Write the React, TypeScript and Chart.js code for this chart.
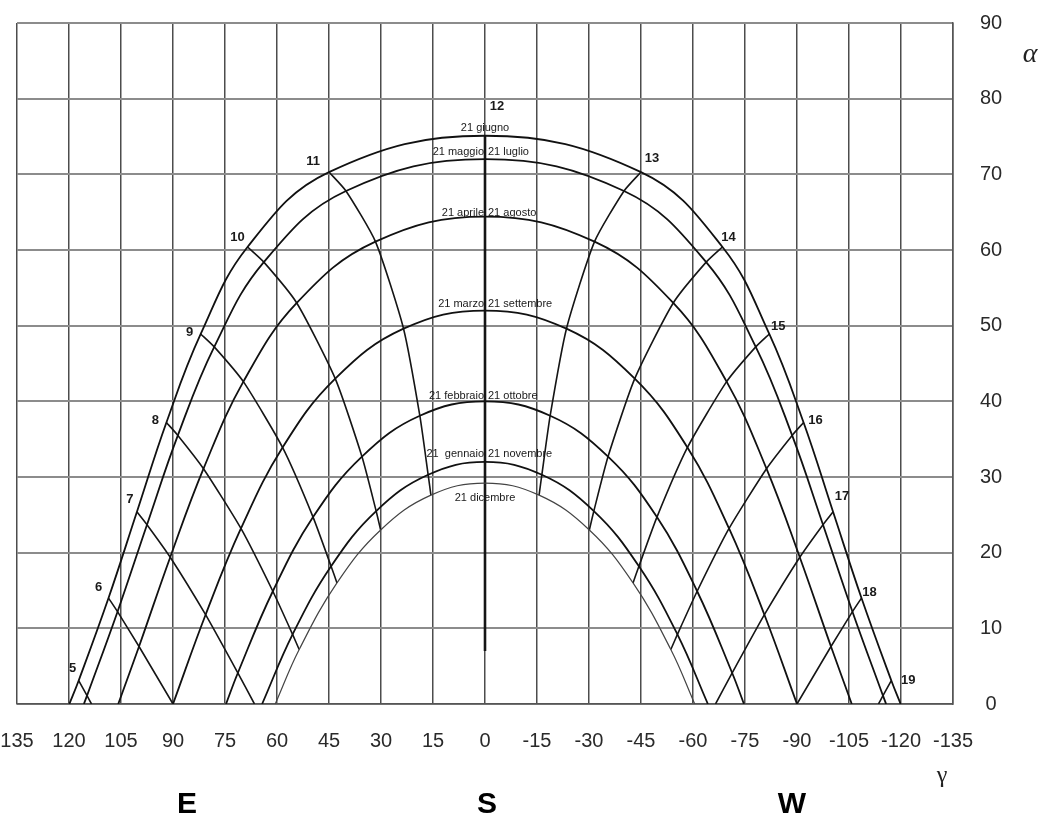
import React, { useEffect, useRef } from 'react';
import { Chart, registerables } from 'chart.js';

Chart.register(...registerables);

// Solar hours (columns of every date array)
const hours = [5, 6, 7, 8, 9, 10, 11, 12, 13, 14, 15, 16, 17, 18, 19];

// Date curves: azimuth γ and altitude α for each hour
const dateNamesLeft = ['21 giugno', '21 maggio', '21 aprile', '21 marzo', '21 febbraio', '21  gennaio', '21 dicembre'];
const dateNamesRight = ['', '21 luglio', '21 agosto', '21 settembre', '21 ottobre', '21 novembre', ''];

const junGamma = [117.2, 108.6, 100.4, 91.9, 82.0, 68.5, 45.0, 0, -45.0, -68.5, -82.0, -91.9, -100.4, -108.6, -117.2];
const junAlpha = [3.1, 14.0, 25.4, 37.2, 48.9, 60.4, 70.3, 75.1, 70.3, 60.4, 48.9, 37.2, 25.4, 14.0, 3.1];

const mayGamma = [114.8, 106.0, 97.5, 88.6, 78.1, 63.8, 40.1, 0, -40.1, -63.8, -78.1, -88.6, -97.5, -106.0, -114.8];
const mayAlpha = [1.1, 12.2, 23.7, 35.5, 47.2, 58.4, 67.8, 72.0, 67.8, 58.4, 47.2, 35.5, 23.7, 12.2, 1.1];

const aprGamma = [null, 99.8, 90.8, 81.2, 69.7, 54.3, 31.6, 0, -31.6, -54.3, -69.7, -81.2, -90.8, -99.8, null];
const aprAlpha = [null, 7.6, 19.4, 31.1, 42.6, 53.0, 61.1, 64.4, 61.1, 53.0, 42.6, 31.1, 19.4, 7.6, null];

const marGamma = [null, 90.0, 80.6, 70.4, 58.4, 43.2, 23.5, 0, -23.5, -43.2, -58.4, -70.4, -80.6, -90.0, null];
const marAlpha = [null, 0, 11.8, 23.2, 33.9, 43.0, 49.6, 52.0, 49.6, 43.0, 33.9, 23.2, 11.8, 0, null];

const febGamma = [null, null, 71.3, 61.2, 49.6, 35.5, 18.8, 0, -18.8, -35.5, -49.6, -61.2, -71.3, null, null];
const febAlpha = [null, null, 4.1, 14.9, 24.7, 32.7, 38.1, 40.0, 38.1, 32.7, 24.7, 14.9, 4.1, null, null];

const janGamma = [null, null, null, 55.5, 44.4, 31.4, 16.4, 0, -16.4, -31.4, -44.4, -55.5, null, null, null];
const janAlpha = [null, null, null, 9.2, 18.2, 25.5, 30.3, 32.0, 30.3, 25.5, 18.2, 9.2, null, null, null];

const decGamma = [null, null, null, 53.6, 42.7, 30.1, 15.6, 0, -15.6, -30.1, -42.7, -53.6, null, null, null];
const decAlpha = [null, null, null, 7.2, 16.0, 23.0, 27.6, 29.2, 27.6, 23.0, 16.0, 7.2, null, null, null];

// Where each date curve meets the horizon
const sunriseGamma = [119.9, 115.7, 105.8, 90.0, 74.7, 64.3, 60.5];
const sunsetGamma = [-119.9, -115.7, -105.8, -90.0, -74.7, -64.3, -60.5];

// Extra end points of the hour lines (horizon crossings, lower end of the noon line)
const hourEndGamma = [113.5, null, 66.5, null, null, null, null, 0, null, null, null, null, -66.5, null, -113.5];
const hourEndAlpha = [0, null, 0, null, null, null, null, 7, null, null, null, null, 0, null, 0];

// Axis ticks
const gammaTicks = [135, 120, 105, 90, 75, 60, 45, 30, 15, 0, -15, -30, -45, -60, -75, -90, -105, -120, -135];
const alphaTicks = [0, 10, 20, 30, 40, 50, 60, 70, 80, 90];
const compassLabels = ['E', 'S', 'W'];

const dateGammas = [junGamma, mayGamma, aprGamma, marGamma, febGamma, janGamma, decGamma];
const dateAlphas = [junAlpha, mayAlpha, aprAlpha, marAlpha, febAlpha, janAlpha, decAlpha];

const FONT = "'Liberation Sans', Arial, Helvetica, sans-serif";
const SERIF = "'Liberation Serif', 'DejaVu Serif', serif";

function buildDateCurve(i: number) {
  const g = dateGammas[i];
  const a = dateAlphas[i];
  const pts: { x: number; y: number }[] = [];
  const idx = hours.map((_, j) => j).filter((j) => a[j] !== null);
  if (a[idx[0]] !== 0) pts.push({ x: sunriseGamma[i], y: 0 });
  idx.forEach((j) => pts.push({ x: g[j] as number, y: a[j] as number }));
  if (a[idx[idx.length - 1]] !== 0) pts.push({ x: sunsetGamma[i], y: 0 });
  return pts;
}

function buildHourLine(j: number) {
  const pts: { x: number; y: number }[] = [];
  dateGammas.forEach((g, i) => {
    const a = dateAlphas[i];
    if (a[j] !== null) pts.push({ x: g[j] as number, y: a[j] as number });
  });
  if (hourEndGamma[j] !== null) pts.push({ x: hourEndGamma[j] as number, y: hourEndAlpha[j] as number });
  return pts;
}

const hourLabelOffsets: [number, number][] = [
  [-6, -12], [-10, -11], [-7, -12], [-11, -2], [-11, -2], [-10, -10], [-16, -11], [12, -29],
  [11, -14], [6, -10], [9, -8], [12, -2], [9, -15], [8, -6], [17, 0],
];
const dateLabelOffsets = [-7.4, -7.5, -4, -6.5, -5.6, -8, 14.7];

const textPlugin = {
  id: 'sunText',
  afterDatasetsDraw(chart: any) {
    const ctx = chart.ctx;
    const xs = chart.scales.x;
    const ys = chart.scales.y;
    ctx.save();
    ctx.fillStyle = '#1a1a1a';
    // hour labels at the 21 June points
    ctx.font = `bold 13px ${FONT}`;
    ctx.textAlign = 'center';
    ctx.textBaseline = 'middle';
    hours.forEach((h, j) => {
      const px = xs.getPixelForValue(junGamma[j]);
      const py = ys.getPixelForValue(junAlpha[j]);
      const [dx, dy] = hourLabelOffsets[j];
      ctx.fillText(String(h), px + dx, py + dy);
    });
    // date labels near noon of each curve
    ctx.font = `11px ${FONT}`;
    const noon = hours.indexOf(12);
    dateNamesLeft.forEach((name, i) => {
      const cx = xs.getPixelForValue(0);
      const cy = ys.getPixelForValue(dateAlphas[i][noon] as number) + dateLabelOffsets[i];
      const right = dateNamesRight[i];
      if (!right) {
        ctx.textAlign = 'center';
        ctx.fillText(name, cx, cy);
      } else {
        ctx.textAlign = 'right';
        ctx.fillText(name, cx - 1, cy);
        ctx.textAlign = 'left';
        ctx.fillText(right, cx + 3, cy);
      }
    });
    // axis symbols
    ctx.fillStyle = '#222';
    ctx.textAlign = 'center';
    ctx.font = `italic 28px ${SERIF}`;
    ctx.fillText('α', 1030, 55);
    ctx.font = `24px ${SERIF}`;
    ctx.fillText('γ', 942, 776);
    // compass
    ctx.fillStyle = '#000';
    ctx.font = `bold 30px ${FONT}`;
    const cpx = [187, 487, 792];
    compassLabels.forEach((c, k) => ctx.fillText(c, cpx[k], 805));
    ctx.restore();
  },
};

export default function App() {
  const ref = useRef<HTMLCanvasElement | null>(null);
  useEffect(() => {
    if (!ref.current) return;
    const datasets: any[] = [];
    dateNamesLeft.forEach((name, i) => {
      datasets.push({
        label: name,
        data: buildDateCurve(i),
        showLine: true,
        borderColor: i === 6 ? '#444' : '#111',
        borderWidth: i === 6 ? 1.2 : 1.8,
        pointRadius: 0,
        tension: 0.4,
        fill: false,
      });
    });
    hours.forEach((h, j) => {
      datasets.push({
        label: 'ore ' + h,
        data: buildHourLine(j),
        showLine: true,
        borderColor: '#151515',
        borderWidth: h === 12 ? 2.6 : 1.6,
        pointRadius: 0,
        tension: 0.2,
        fill: false,
      });
    });

    const chart = new Chart(ref.current, {
      type: 'scatter',
      data: { datasets },
      plugins: [textPlugin],
      options: {
        animation: false,
        responsive: false,
        events: [],
        layout: { padding: { left: 17, top: 23, right: 0, bottom: 0 } },
        plugins: { legend: { display: false }, tooltip: { enabled: false } },
        scales: {
          x: {
            type: 'linear',
            min: -135,
            max: 135,
            reverse: true,
            afterFit: (s: any) => {
              s.height = 129;
              s.paddingLeft = 0;
              s.paddingRight = 0;
            },
            afterBuildTicks: (s: any) => { s.ticks = gammaTicks.map((v) => ({ value: v })); },
            ticks: {
              autoSkip: false,
              maxRotation: 0,
              padding: 25,
              color: '#2a2a2a',
              font: { family: FONT, size: 20 },
              callback: (v: any) => String(v),
            },
            grid: { color: '#4d4d4d', lineWidth: 1.5, drawTicks: false },
            border: { color: '#555', width: 1.5 },
          },
          y: {
            type: 'linear',
            position: 'right',
            min: 0,
            max: 90,
            afterFit: (s: any) => {
              s.width = 95;
              s.paddingTop = 0;
              s.paddingBottom = 0;
            },
            afterBuildTicks: (s: any) => { s.ticks = alphaTicks.map((v) => ({ value: v })); },
            ticks: {
              padding: 27,
              crossAlign: 'center',
              color: '#2a2a2a',
              font: { family: FONT, size: 20 },
              callback: (v: any) => String(v),
            },
            grid: { color: '#8c8c8c', lineWidth: 2, drawTicks: false },
            border: { color: '#555', width: 1.5 },
          },
        },
      } as any,
    });
    return () => chart.destroy();
  }, []);

  return (
    <div style={{ position: 'fixed', left: 0, top: 0, width: 1048, height: 833, background: '#fff' }}>
      <canvas ref={ref} width={1048} height={833} style={{ display: 'block' }} />
    </div>
  );
}
